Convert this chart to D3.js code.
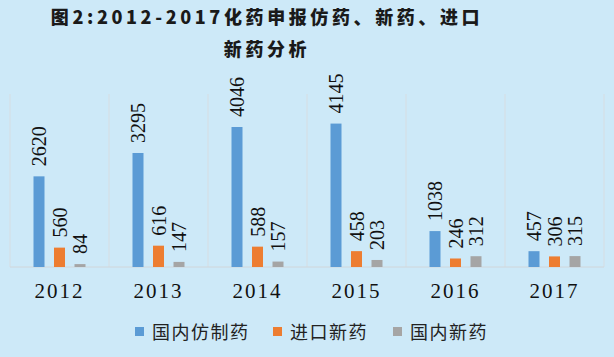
<!DOCTYPE html>
<html><head><meta charset="utf-8">
<script src="https://cdn.jsdelivr.net/npm/d3@7/dist/d3.min.js"></script>
<style>
html,body{margin:0;padding:0;background:#cde9f8;}
svg{display:block;}
</style></head>
<body>
<svg id="chart" width="614" height="357"></svg>
<script>
const years = ["2012","2013","2014","2015","2016","2017"];
const seriesNames = ["国内仿制药","进口新药","国内新药"];
const generic = [2620,3295,4046,4145,1038,457];
const importNew = [560,616,588,458,246,306];
const domesticNew = [84,147,157,203,312,315];
const colors = ["#5b9bd5","#ed7d31","#a5a5a5"];
const titleLines = ["图2:2012-2017化药申报仿药、新药、进口","新药分析"];

const seriesValues = [generic, importNew, domesticNew];
const svg = d3.select("#chart");
svg.append("rect").attr("width",614).attr("height",357).attr("fill","#cde9f8");

const x = d3.scaleBand().domain(years).range([10,604]).paddingInner(0).paddingOuter(0);
const y = d3.scaleLinear().domain([0,5000]).range([267,94]);
const bw = 11, step = 20.5;

// title
svg.selectAll("text.title").data(titleLines).join("text")
  .attr("class","title")
  .attr("x",267).attr("y",(d,i)=>24+i*32)
  .attr("text-anchor","middle")
  .attr("font-family","'Noto Sans CJK SC'")
  .attr("font-weight","900")
  .attr("font-size",18)
  .attr("letter-spacing","3.6px")
  .attr("fill","#1a1a1a")
  .text(d=>d);

// vertical gridlines
const gridX = years.map(d=>x(d)).concat([x.range()[1]]);
svg.selectAll("line.grid").data(gridX).join("line")
  .attr("class","grid")
  .attr("x1",d=>d).attr("x2",d=>d)
  .attr("y1",y(5000)).attr("y2",y(0))
  .attr("stroke","#d6dde2").attr("stroke-width",1);

// baseline
svg.append("line").attr("x1",10).attr("x2",604).attr("y1",y(0)).attr("y2",y(0))
  .attr("stroke","#d0d6da").attr("stroke-width",1);

seriesValues.forEach((vals,si)=>{
  const g = svg.append("g");
  const off = d => x(d) + x.bandwidth()/2 - (bw/2) + (si-1)*step;
  g.selectAll("rect").data(years).join("rect")
    .attr("x",d=>off(d))
    .attr("width",bw)
    .attr("y",(d,i)=>y(vals[i]))
    .attr("height",(d,i)=>y(0)-y(vals[i]))
    .attr("fill",colors[si]);
  g.selectAll("text").data(years).join("text")
    .attr("transform",(d,i)=>`translate(${off(d)+bw/2+7},${y(vals[i])-10}) rotate(-90)`)
    .attr("font-family","'Liberation Serif'")
    .attr("font-size",20)
    .attr("fill","#111")
    .text((d,i)=>vals[i]);
});

// category labels
svg.selectAll("text.cat").data(years).join("text")
  .attr("class","cat")
  .attr("x",d=>x(d)+x.bandwidth()/2)
  .attr("y",298)
  .attr("text-anchor","middle")
  .attr("font-family","'Liberation Serif'")
  .attr("font-size",21)
  .attr("letter-spacing","2px")
  .attr("fill","#111")
  .text(d=>d);

// legend
const legX = [135,273,393];
const leg = svg.selectAll("g.leg").data(seriesNames).join("g").attr("class","leg")
  .attr("transform",(d,i)=>`translate(${legX[i]},332)`);
leg.append("rect").attr("x",0).attr("y",-5).attr("width",9).attr("height",9)
  .attr("fill",(d,i)=>colors[i]);
leg.append("text").attr("x",17).attr("y",7)
  .attr("font-family","'Noto Sans CJK SC'")
  .attr("font-size",18)
  .attr("letter-spacing","1.5px")
  .attr("fill","#222")
  .text(d=>d);
</script>
</body></html>
